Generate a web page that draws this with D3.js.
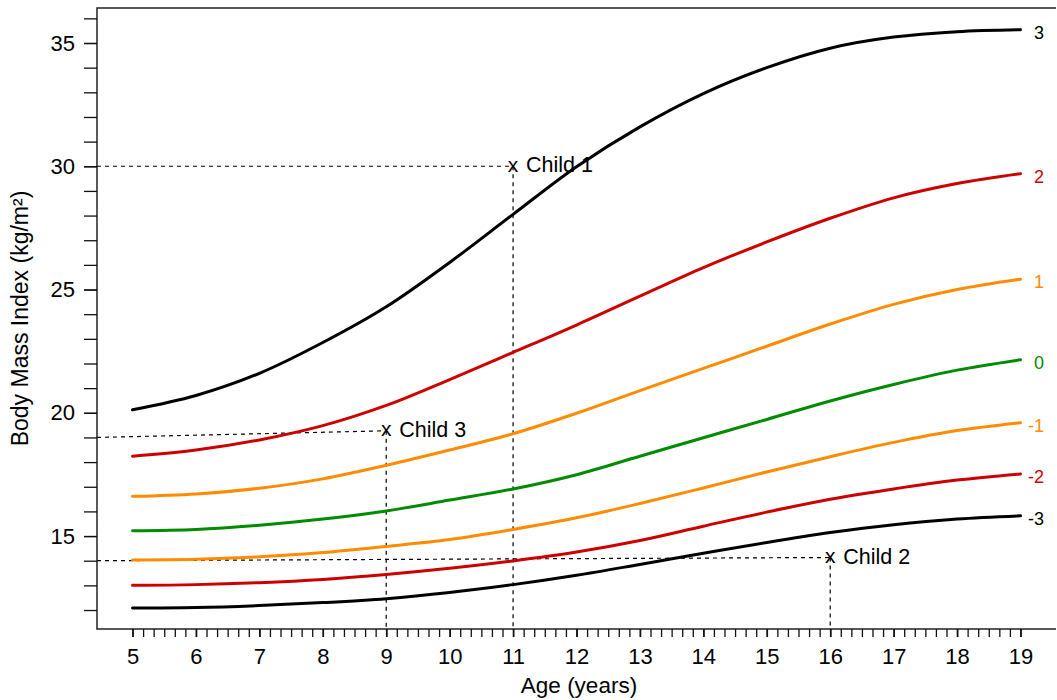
<!DOCTYPE html>
<html>
<head>
<meta charset="utf-8">
<script src="https://cdn.jsdelivr.net/npm/d3@7"></script>
<style>
  body { margin: 0; background: #fff; }
  text { font-family: "Liberation Sans", Arial, Helvetica, sans-serif; }
</style>
</head>
<body>
<div id="chart"></div>
<script>
// ages (years) and BMI z-score curves
var ages = [5, 6, 7, 8, 9, 10, 11, 12, 13, 14, 15, 16, 17, 18, 19];
var sdPlus3  = [20.12, 20.7, 21.6, 22.85, 24.3, 26.1, 28.05, 29.98, 31.6, 32.95, 34.0, 34.79, 35.24, 35.46, 35.54];
var sdPlus2  = [18.24, 18.49, 18.9, 19.48, 20.3, 21.35, 22.45, 23.56, 24.73, 25.89, 26.93, 27.89, 28.72, 29.3, 29.7];
var sdPlus1  = [16.61, 16.71, 16.94, 17.32, 17.87, 18.49, 19.15, 19.98, 20.9, 21.8, 22.7, 23.6, 24.4, 25.0, 25.42];
var sdZero   = [15.22, 15.27, 15.44, 15.69, 16.02, 16.46, 16.91, 17.49, 18.24, 18.99, 19.73, 20.48, 21.15, 21.73, 22.15];
var sdMinus1 = [14.03, 14.06, 14.16, 14.33, 14.58, 14.86, 15.27, 15.74, 16.32, 16.95, 17.6, 18.22, 18.8, 19.28, 19.6];
var sdMinus2 = [13.0, 13.03, 13.11, 13.24, 13.44, 13.69, 13.99, 14.35, 14.82, 15.4, 15.97, 16.49, 16.91, 17.27, 17.52];
var sdMinus3 = [12.08, 12.1, 12.18, 12.3, 12.46, 12.71, 13.03, 13.41, 13.85, 14.3, 14.74, 15.14, 15.46, 15.69, 15.82];
var curveLabels = ["3", "2", "1", "0", "-1", "-2", "-3"];

// children marked on the chart
var childNames = ["Child 1", "Child 2", "Child 3"];
var childAges  = [11, 16, 9];
var childBmi   = [30, 14.13, 19.27];
var childGuide = [30, 14, 19];   // value where the dashed guide meets the y axis

// tick values
var xTickLabels = [5, 6, 7, 8, 9, 10, 11, 12, 13, 14, 15, 16, 17, 18, 19];
var yTickLabels = [15, 20, 25, 30, 35];

var allCurves = [sdPlus3, sdPlus2, sdPlus1, sdZero, sdMinus1, sdMinus2, sdMinus3];
var curveColors = ["#000000", "#cd0000", "#ff8c00", "#008b00", "#ff8c00", "#cd0000", "#000000"];

var totalWidth = 1057, totalHeight = 700;
var plot = {left: 97, top: 8, right: 1056, bottom: 629};

var svg = d3.select("#chart")
  .append("svg")
    .attr("width", totalWidth)
    .attr("height", totalHeight);

// scales (R style 4% padding around the data)
var x = d3.scaleLinear().domain([4.44, 19.56]).range([plot.left, plot.right]);
var y = d3.scaleLinear().domain([11.23, 36.42]).range([plot.bottom, plot.top]);

// dashed guides for the children
for (var i = 0; i < childNames.length; i++) {
  svg.append("line")
    .attr("x1", x(x.domain()[0])).attr("y1", y(childGuide[i]))
    .attr("x2", x(childAges[i])).attr("y2", y(childBmi[i]))
    .attr("stroke", "#000").attr("stroke-width", 1.2)
    .attr("stroke-dasharray", "4,4");
  svg.append("line")
    .attr("x1", x(childAges[i])).attr("y1", y(childBmi[i]))
    .attr("x2", x(childAges[i])).attr("y2", plot.bottom)
    .attr("stroke", "#000").attr("stroke-width", 1.2)
    .attr("stroke-dasharray", "4,4");
}

// curves
var line = d3.line()
  .x(function(d) { return x(d[0]); })
  .y(function(d) { return y(d[1]); })
  .curve(d3.curveCatmullRom.alpha(0.5));

allCurves.forEach(function(vals, k) {
  var pts = ages.map(function(a, j) { return [a, vals[j]]; });
  svg.append("path")
    .datum(pts)
    .attr("d", line)
    .attr("fill", "none")
    .attr("stroke", curveColors[k])
    .attr("stroke-width", 3)
    .attr("stroke-linecap", "round");
  svg.append("text")
    .attr("x", 1044)
    .attr("y", y(vals[vals.length - 1]) + 3)
    .attr("dominant-baseline", "central")
    .style("text-anchor", "end")
    .style("font-size", "18px")
    .attr("fill", curveColors[k])
    .text(curveLabels[k]);
});

// child markers
for (var i = 0; i < childNames.length; i++) {
  svg.append("text")
    .attr("x", x(childAges[i]))
    .attr("y", y(childBmi[i]) + 5.5)
    .style("text-anchor", "middle")
    .style("font-size", "21px")
    .text("x");
  svg.append("text")
    .attr("x", x(childAges[i]) + 13)
    .attr("y", y(childBmi[i]) + 6)
    .style("font-size", "21.5px")
    .text(childNames[i]);
}

// box (top, left, bottom)
svg.append("path")
  .attr("d", "M" + plot.right + "," + plot.top + "H" + plot.left + "V" + plot.bottom + "H" + plot.right)
  .attr("fill", "none")
  .attr("stroke", "#222")
  .attr("stroke-width", 1.5);

// x axis: ticks every 2 months
var xMinor = d3.range(0, 85).map(function(k) { return 5 + k / 6; });
svg.append("g")
  .attr("transform", "translate(0," + plot.bottom + ")")
  .call(d3.axisBottom(x).tickValues(xMinor).tickSize(8).tickFormat(""))
  .call(function(g) { g.select(".domain").remove(); })
  .selectAll("line").attr("stroke", "#111").attr("stroke-width", 1.3);

svg.append("g")
  .attr("transform", "translate(0," + plot.bottom + ")")
  .call(d3.axisBottom(x).tickValues(xTickLabels).tickSize(8).tickPadding(11))
  .call(function(g) { g.select(".domain").remove(); })
  .call(function(g) { g.selectAll("line").attr("stroke", "#111").attr("stroke-width", 1.6); })
  .selectAll("text")
    .style("font-size", "22px")
    .attr("fill", "#000");

// y axis
svg.append("g")
  .attr("transform", "translate(" + plot.left + ",0)")
  .call(d3.axisLeft(y).tickValues(d3.range(12, 37)).tickSize(13).tickFormat(""))
  .call(function(g) { g.select(".domain").remove(); })
  .selectAll("line").attr("stroke", "#111").attr("stroke-width", 1.3);

svg.append("g")
  .attr("transform", "translate(" + plot.left + ",0)")
  .call(d3.axisLeft(y).tickValues(yTickLabels).tickSize(13).tickPadding(9))
  .call(function(g) { g.select(".domain").remove(); })
  .call(function(g) { g.selectAll("line").attr("stroke", "#111").attr("stroke-width", 1.3); })
  .selectAll("text")
    .style("font-size", "22px")
    .attr("fill", "#000");

// axis titles
svg.append("text")
  .attr("x", 579)
  .attr("y", 693)
  .style("text-anchor", "middle")
  .style("font-size", "22.5px")
  .text("Age (years)");

svg.append("text")
  .attr("transform", "translate(28," + ((plot.top + plot.bottom) / 2) + ") rotate(-90)")
  .style("text-anchor", "middle")
  .style("font-size", "23px")
  .text("Body Mass Index (kg/m²)");
</script>
</body>
</html>
